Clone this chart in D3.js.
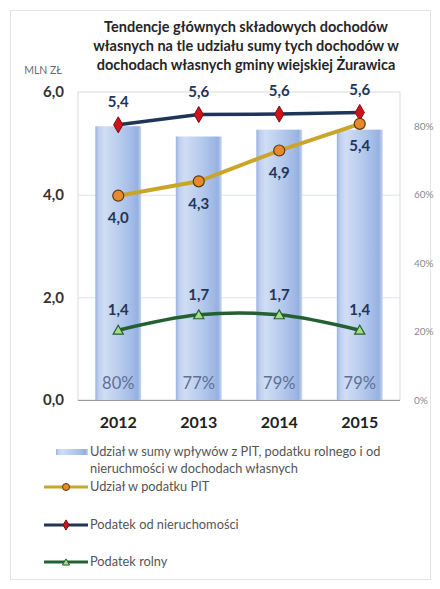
<!DOCTYPE html>
<html><head><meta charset="utf-8">
<script src="https://cdn.jsdelivr.net/npm/d3@7"></script>
<style>body{margin:0;background:#fff;}svg{display:block;}</style>
</head><body>
<svg id="c" width="440" height="589"></svg>
<script>
const years = ["2012","2013","2014","2015"];
const shareSum = [0.80, 0.77, 0.79, 0.79];
const pit = [3.98, 4.26, 4.86, 5.38];
const nieruch = [5.36, 5.56, 5.57, 5.6];
const rolny = [1.36, 1.66, 1.66, 1.36];
const leftTicks = [0, 2, 4, 6];
const rightTicks = [0, 0.2, 0.4, 0.6, 0.8];
const titleLines = ["Tendencje głównych składowych dochodów","własnych na tle udziału sumy tych dochodów w","dochodach własnych gminy wiejskiej Żurawica"];
const legendItems = ["Udział w sumy wpływów z PIT, podatku rolnego i od|nieruchmości w dochodach własnych","Udział w podatku PIT","Podatek od nieruchomości","Podatek rolny"];

const svg = d3.select("#c");
const F = "Lato, 'Open Sans', sans-serif";
const P = {l:78, r:400, t:92, b:400};

svg.append("rect").attr("x",10.5).attr("y",10.5).attr("width",420).attr("height",569)
  .attr("fill","#fff").attr("stroke","#e4e4e4");

const x = d3.scaleBand().domain(years).range([P.l,P.r]).paddingInner(0.43).paddingOuter(0.215);
const y = d3.scaleLinear().domain([0,6]).range([P.b,P.t]);
const y2 = d3.scaleLinear().domain([0,0.9]).range([P.b,P.t]);
const cx = d => x(d)+x.bandwidth()/2;

const defs = svg.append("defs");
const g = defs.append("linearGradient").attr("id","bar").attr("x1","0").attr("x2","1").attr("y1","0").attr("y2","0");
[[0,"#9ab3e2"],[0.08,"#c0d1f0"],[0.2,"#d0ddf4"],[0.5,"#bacdee"],[0.82,"#a0b9e5"],[0.92,"#96b0e0"],[1,"#c8d6f0"]]
  .forEach(([o,c])=>g.append("stop").attr("offset",o).attr("stop-color",c));

svg.append("rect").attr("x",P.l).attr("y",P.t).attr("width",P.r-P.l).attr("height",P.b-P.t)
  .attr("fill","#fff").attr("stroke","#d9d9d9");
svg.append("g").selectAll("line").data(leftTicks.slice(1,-1)).join("line")
  .attr("x1",P.l).attr("x2",P.r).attr("y1",d=>y(d)+0.5).attr("y2",d=>y(d)+0.5)
  .attr("stroke","#dde3ec");

svg.append("g").selectAll("rect").data(years).join("rect")
  .attr("x",d=>x(d)).attr("width",x.bandwidth())
  .attr("y",(d,i)=>y2(shareSum[i])).attr("height",(d,i)=>P.b-y2(shareSum[i]))
  .attr("fill","url(#bar)");
svg.append("g").selectAll("text").data(years).join("text")
  .attr("x",d=>cx(d)).attr("y",383).attr("dy","0.35em").attr("text-anchor","middle")
  .attr("font-family",F).attr("font-size",16.5).attr("fill","#5f6f96")
  .text((d,i)=>d3.format(".0%")(shareSum[i]));

svg.append("line").attr("x1",P.l).attr("x2",P.r).attr("y1",P.b+0.5).attr("y2",P.b+0.5).attr("stroke","#9a9a9a").attr("stroke-width",1.2);

const la = svg.append("g").attr("transform",`translate(${P.l},0)`)
  .call(d3.axisLeft(y).tickValues(leftTicks).tickSize(0).tickPadding(14).tickFormat(d=>d3.format(".1f")(d).replace(".",",")));
la.select(".domain").remove();
la.selectAll("text").attr("font-family",F).attr("font-size",15).attr("font-weight","bold").attr("fill","#333");

const ra = svg.append("g").attr("transform",`translate(${P.r},0)`)
  .call(d3.axisRight(y2).tickValues(rightTicks).tickSize(0).tickPadding(14).tickFormat(d3.format(".0%")));
ra.select(".domain").remove();
ra.selectAll("text").attr("font-family",F).attr("font-size",10).attr("fill","#8a8a8a");

const ba = svg.append("g").attr("transform",`translate(0,${P.b})`)
  .call(d3.axisBottom(x).tickSize(0).tickPadding(17));
ba.select(".domain").remove();
ba.selectAll("text").attr("font-family",F).attr("font-size",16).attr("font-weight","bold").attr("fill","#222");

const lineS = d3.line().x((d,i)=>cx(years[i])).y(d=>y(d));
const lineC = d3.line().x((d,i)=>cx(years[i])).y(d=>y(d)).curve(d3.curveCatmullRom.alpha(0.5));
svg.append("path").datum(nieruch).attr("d",lineS).attr("fill","none").attr("stroke","#1f3558").attr("stroke-width",3.5);
svg.append("path").datum(pit).attr("d",lineS).attr("fill","none").attr("stroke","#c9a62a").attr("stroke-width",4);
svg.append("path").datum(rolny).attr("d",lineC).attr("fill","none").attr("stroke","#236032").attr("stroke-width",3.5);

const sym = (type,size)=>d3.symbol().type(type).size(size)();
svg.append("g").selectAll("path").data(nieruch).join("path")
  .attr("transform",(d,i)=>`translate(${cx(years[i])},${y(d)})`)
  .attr("d",sym(d3.symbolDiamond,75)).attr("fill","#d0121b").attr("stroke","#7a1014").attr("stroke-width",1);
svg.append("g").selectAll("circle").data(pit).join("circle")
  .attr("cx",(d,i)=>cx(years[i])).attr("cy",d=>y(d)).attr("r",5.5)
  .attr("fill","#e8892c").attr("stroke","#5a3a10").attr("stroke-width",1.2);
svg.append("g").selectAll("path").data(rolny).join("path")
  .attr("transform",(d,i)=>`translate(${cx(years[i])},${y(d)+1})`)
  .attr("d",sym(d3.symbolTriangle,45)).attr("fill","#a6dc84").attr("stroke","#236032").attr("stroke-width",1.2);

const lab = (arr,dy) => svg.append("g").selectAll("text").data(arr).join("text")
  .attr("x",(d,i)=>cx(years[i])).attr("y",d=>y(d)+dy).attr("dy","0.35em").attr("text-anchor","middle")
  .attr("font-family",F).attr("font-size",15).attr("font-weight","bold").attr("fill","#22365a")
  .text(d=>d3.format(".1f")(d).replace(".",","));
lab(nieruch,-23);
lab(pit,22);
lab(rolny,-20);

svg.append("g").selectAll("text").data(titleLines).join("text")
  .attr("x",246).attr("y",(d,i)=>27+i*19).attr("dy","0.35em").attr("text-anchor","middle")
  .attr("font-family",F).attr("font-size",14.5).attr("font-weight","bold").attr("fill","#262626")
  .text(d=>d);
svg.append("text").attr("x",43).attr("y",70).attr("dy","0.35em").attr("text-anchor","middle")
  .attr("font-family",F).attr("font-size",10.5).attr("fill","#6a6a6a").text("MLN ZŁ");

const LG = svg.append("g").attr("font-family",F).attr("font-size",12.8).attr("fill","#555");
const lgY = [452, 487, 525, 562];
LG.append("rect").attr("x",56).attr("y",lgY[0]-3).attr("width",32).attr("height",6).attr("fill","url(#bar)");
legendItems[0].split("|").forEach((t,j)=>LG.append("text").attr("x",90).attr("y",lgY[0]+j*17).attr("dy","0.35em").text(t));
const lgLines = [["#c9a62a","circle"],["#1f3558","diamond"],["#236032","triangle"]];
lgLines.forEach(([c,m],k)=>{
  const yy = lgY[k+1];
  LG.append("line").attr("x1",44).attr("x2",88).attr("y1",yy).attr("y2",yy).attr("stroke",c).attr("stroke-width",3);
  if(m==="circle") LG.append("circle").attr("cx",66).attr("cy",yy).attr("r",3.5).attr("fill","#e8892c").attr("stroke","#5a3a10");
  if(m==="diamond") LG.append("path").attr("transform",`translate(66,${yy})`).attr("d",sym(d3.symbolDiamond,30)).attr("fill","#d0121b").attr("stroke","#7a1014");
  if(m==="triangle") LG.append("path").attr("transform",`translate(66,${yy+1})`).attr("d",sym(d3.symbolTriangle,22)).attr("fill","#a6dc84").attr("stroke","#236032");
  LG.append("text").attr("x",90).attr("y",yy).attr("dy","0.35em").text(legendItems[k+1]);
});
</script>
</body></html>
